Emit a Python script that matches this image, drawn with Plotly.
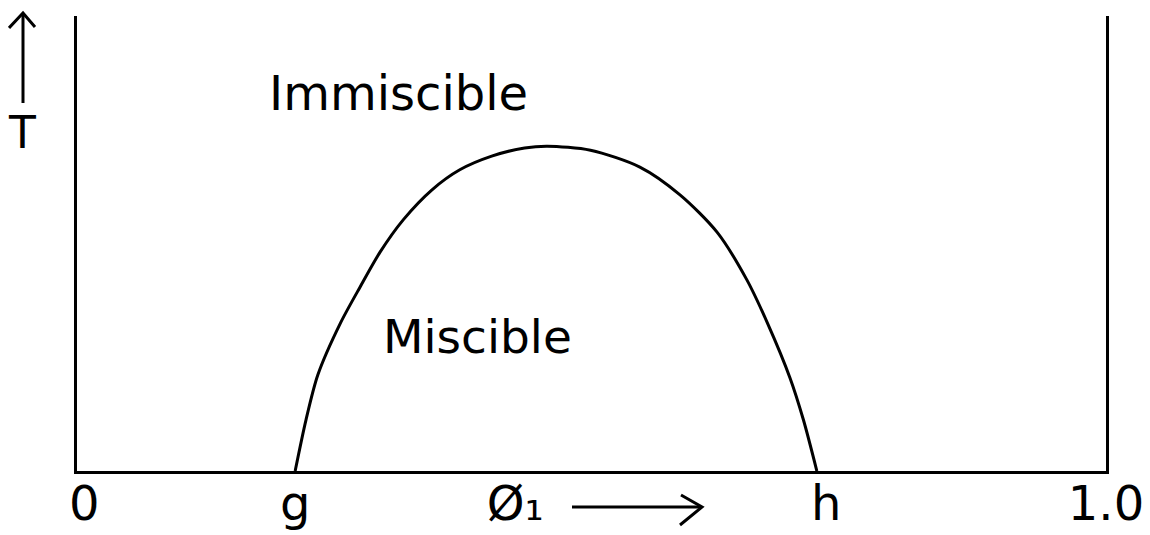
import plotly.graph_objects as go

# ---- data ----
phi = [0.212, 0.2225, 0.234, 0.256, 0.275, 0.2945, 0.317, 0.345, 0.372, 0.403,
       0.435, 0.457, 0.499, 0.547, 0.586, 0.622, 0.651, 0.671, 0.693, 0.706, 0.719]
temp = [0.000, 0.112, 0.211, 0.325, 0.404, 0.481, 0.552, 0.618, 0.662, 0.692,
        0.710, 0.714, 0.705, 0.668, 0.607, 0.525, 0.420, 0.325, 0.204, 0.112, 0.000]

tick_vals = [0.007, 0.212, 0.426, 0.728, 1.0]
tick_text = ["0", "g", "Ø₁", "h", "1.0"]

region_labels = ["Immiscible", "Miscible"]
region_x = [0.312, 0.389]
region_y = [0.83, 0.295]
region_size = [48, 47]

# ---- layout geometry (page has an 8px body margin) ----
OFF = 8
W, H = 1150 - OFF, 535 - OFF
ML, MR, MT, MB = 77 - OFF, 44, 16 - OFF, 64
PW, PH = W - ML - MR, H - MT - MB


def px(x):
    return (x - OFF - ML) / PW


def py(y):
    return (H - MB - (y - OFF)) / PH


FONT = "DejaVu Sans"
LW = 3

fig = go.Figure()
fig.add_trace(go.Scatter(
    x=phi, y=temp, mode="lines",
    line=dict(color="black", width=LW, shape="spline", smoothing=0.8),
    hoverinfo="skip", showlegend=False,
))

for t, x, y, s in zip(region_labels, region_x, region_y, region_size):
    fig.add_annotation(x=x, y=y, xref="x", yref="y", text=t, showarrow=False,
                       xanchor="center", yanchor="middle",
                       font=dict(family=FONT, size=s, color="black"))

# T label
fig.add_annotation(x=px(22), y=py(133), xref="paper", yref="paper", text="T",
                   showarrow=False, xanchor="center", yanchor="middle",
                   font=dict(family=FONT, size=44, color="black"))

line_style = dict(color="black", width=LW)
# T arrow
fig.add_shape(type="path", xref="paper", yref="paper",
              path=f"M {px(23)} {py(103)} L {px(23)} {py(14)}", line=line_style)
fig.add_shape(type="path", xref="paper", yref="paper",
              path=f"M {px(9)} {py(28)} L {px(23)} {py(13)} L {px(35)} {py(27)}",
              line=line_style)
# phi arrow
fig.add_shape(type="path", xref="paper", yref="paper",
              path=f"M {px(572)} {py(507)} L {px(701)} {py(507)}", line=line_style)
fig.add_shape(type="path", xref="paper", yref="paper",
              path=f"M {px(681)} {py(495)} L {px(702)} {py(507)} L {px(680)} {py(525)}",
              line=line_style)

fig.update_layout(
    width=W, height=H,
    margin=dict(l=ML, r=MR, t=MT, b=MB, autoexpand=False),
    paper_bgcolor="white", plot_bgcolor="white",
    showlegend=False,
    xaxis=dict(range=[0, 1], showgrid=False, zeroline=False, automargin=False,
               showline=True, linecolor="black", linewidth=LW,
               tickmode="array", tickvals=tick_vals, ticktext=tick_text,
               ticks="", ticklabelstandoff=-12,
               tickfont=dict(family=FONT, size=48, color="black"),
               fixedrange=True),
    yaxis=dict(range=[0, 1], showgrid=False, zeroline=False, automargin=False,
               showline=True, mirror=True, linecolor="black", linewidth=LW,
               showticklabels=False, ticks="", fixedrange=True),
)

fig.write_html("out.html")
